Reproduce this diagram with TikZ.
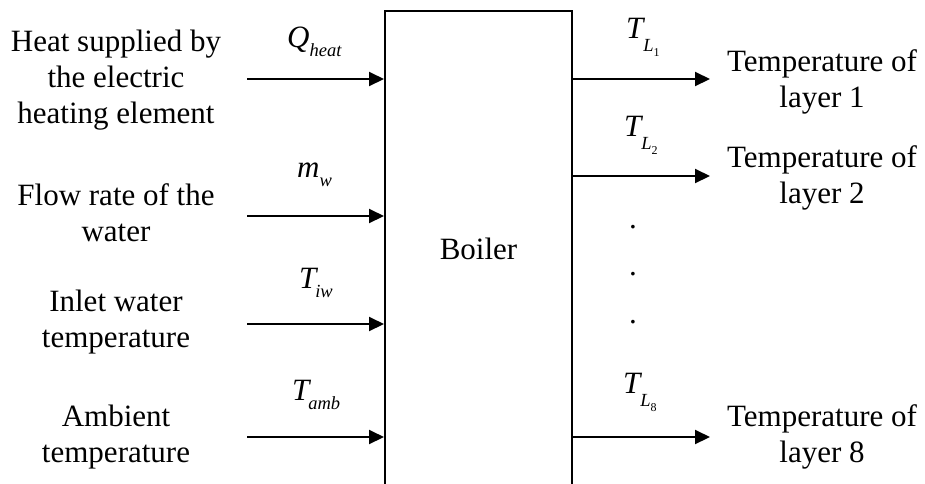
\documentclass[tikz,border=0pt]{standalone}
\usepackage{fontspec}
\setmainfont{Liberation Serif}
\usetikzlibrary{arrows.meta}
\newcommand\mysub[1]{\raisebox{-0.3em}{\fontsize{18.5}{18.5}\selectfont\itshape #1}}
\newcommand\mysubL[1]{\raisebox{-0.45em}{\fontsize{18.5}{18.5}\selectfont\itshape #1}}
\newcommand\mysubsub[1]{\raisebox{-0.22em}{\fontsize{12}{12}\selectfont\upshape #1}}
\begin{document}
\begin{tikzpicture}[x=1pt,y=-1pt,
  txt/.style={align=center,inner sep=0pt,font=\fontsize{31}{36}\selectfont},
  sym/.style={inner sep=0pt,anchor=base west,font=\fontsize{31}{36}\selectfont},
  arr/.style={line width=2pt,-{Triangle[length=15pt,width=14pt]}},
  boxst/.style={draw,line width=2pt,minimum width=187pt,minimum height=478pt,inner sep=0pt}]
\useasboundingbox (0,0) rectangle (925,483);
\node[boxst] (boiler) at (478.5,250) {};
\node[txt] (boilertxt) at (478.5,249) {Boiler};
% left inputs
\coordinate (in1) at (247,79);
\coordinate (in2) at (247,216);
\coordinate (in3) at (247,324);
\coordinate (in4) at (247,437);
\draw[arr] (in1) -- (in1 -| boiler.west);
\draw[arr] (in2) -- (in2 -| boiler.west);
\draw[arr] (in3) -- (in3 -| boiler.west);
\draw[arr] (in4) -- (in4 -| boiler.west);
\node[txt] (t1) at (116,80) {Heat supplied by\\the electric\\heating element};
\node[txt] (t2) at (116,213) {Flow rate of the\\water};
\node[txt] (t3) at (116,322) {Inlet water\\temperature};
\node[txt] (t4) at (116,437) {Ambient\\temperature};
\node[sym] (s1) at (287,47) {\textit{Q}\mysub{heat}};
\node[sym] (s2) at (297,177) {\textit{m}\mysub{w}};
\node[sym] (s3) at (299,288) {\textit{T}\kern-3pt\mysub{iw}};
\node[sym] (s4) at (292,400) {\textit{T}\kern-3pt\mysub{amb}};
% right outputs
\coordinate (out1) at (710,79);
\coordinate (out2) at (710,176);
\coordinate (out8) at (710,437);
\draw[arr] (out1 -| boiler.east) -- (out1);
\draw[arr] (out2 -| boiler.east) -- (out2);
\draw[arr] (out8 -| boiler.east) -- (out8);
\node[sym] (r1s) at (626,38) {\textit{T}\kern-2pt\mysubL{\textit{L}\mysubsub{1}}};
\node[sym] (r2s) at (624,136) {\textit{T}\kern-2pt\mysubL{\textit{L}\mysubsub{2}}};
\node[sym] (r8s) at (623,393) {\textit{T}\kern-2pt\mysubL{\textit{L}\mysubsub{8}}};
\node[txt] (r1) at (822,82) {Temperature of\\layer 1};
\node[txt] (r2) at (822,178) {Temperature of\\layer 2};
\node[txt] (r8) at (822,437) {Temperature of\\layer 8};
\node[sym,anchor=base] (d1) at (633,228) {.};
\node[sym,anchor=base] (d2) at (633,275) {.};
\node[sym,anchor=base] (d3) at (633,323) {.};
\end{tikzpicture}
\end{document}
